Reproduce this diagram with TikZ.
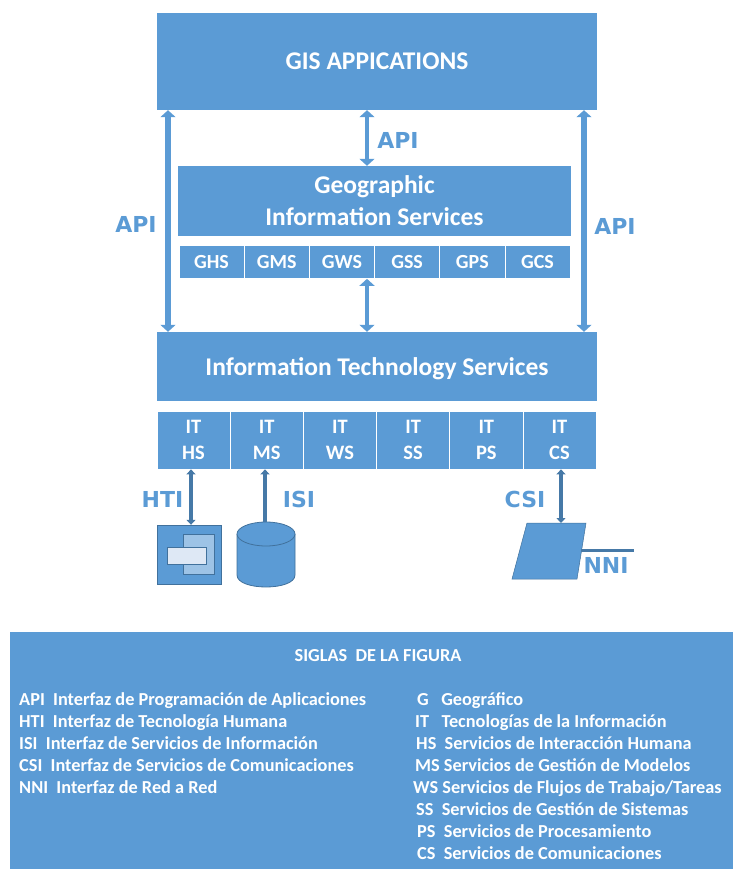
\documentclass[tikz,border=0pt]{standalone}
\usepackage{fontspec}
\setmainfont{Carlito}
\newfontfamily\labelfont{DejaVu Sans}
\usetikzlibrary{arrows.meta}
\definecolor{boxblue}{HTML}{5B9BD5}
\definecolor{edgeblue}{HTML}{41719C}
\definecolor{paleblue}{HTML}{9DC3E6}
\definecolor{paperblue}{HTML}{DEE8F5}
\tikzset{
  bluebox/.style={fill=boxblue,text=white,inner sep=0pt,align=center,font=\bfseries\fontsize{25.5}{32}\selectfont},
  gcell/.style={bluebox,draw=white,line width=0.7pt,minimum width=65.2pt,minimum height=33pt,font=\bfseries\fontsize{20}{24}\selectfont},
  itcell/.style={bluebox,draw=white,line width=0.7pt,minimum width=73.2pt,minimum height=58pt,font=\bfseries\fontsize{20.5}{26}\selectfont},
  apilabel/.style={text=boxblue,inner sep=0pt,font=\labelfont\bfseries\fontsize{22}{26}\selectfont},
  bigarrow/.style={boxblue,line width=5.5pt,{Triangle[width=15pt,length=7pt]}-{Triangle[width=15pt,length=7pt]}},
  thinarrow/.style={edgeblue!80!boxblue,line width=3.5pt,{Triangle[width=9pt,length=5pt]}-{Triangle[width=9pt,length=5pt]}},
  legendline/.style={text=white,anchor=base west,inner sep=0pt,font=\bfseries\fontsize{18.3}{22}\selectfont},
}
\begin{document}
\begin{tikzpicture}[x=1pt,y=-1pt]
 \useasboundingbox (0,0) rectangle (733,869);

 \node (gis) at (377,61.5) [bluebox,minimum width=440pt,minimum height=97pt] {GIS APPICATIONS};
 \node (geo) at (374.5,201) [bluebox,minimum width=393pt,minimum height=70pt] {Geographic\\Information Services};
 \node (its) at (377,366.5) [bluebox,minimum width=440pt,minimum height=69pt,text depth=0pt] {Information Technology Services};

 \node (ghs) at (211.5,262) [gcell] {GHS};
 \node (gms) at (276.7,262) [gcell] {GMS};
 \node (gws) at (341.9,262) [gcell] {GWS};
 \node (gss) at (407.1,262) [gcell] {GSS};
 \node (gps) at (472.3,262) [gcell] {GPS};
 \node (gcs) at (537.5,262) [gcell] {GCS};

 \node (iths) at (193.5,440) [itcell] {IT\\HS};
 \node (itms) at (266.7,440) [itcell] {IT\\MS};
 \node (itws) at (339.9,440) [itcell] {IT\\WS};
 \node (itss) at (413.1,440) [itcell] {IT\\SS};
 \node (itps) at (486.3,440) [itcell] {IT\\PS};
 \node (itcs) at (559.5,440) [itcell] {IT\\CS};

 % interface symbols
 \node (screen) at (189,554.5) [fill=boxblue,draw=edgeblue,minimum width=64pt,minimum height=59pt,inner sep=0pt] {};
 \node (backpane) at (198.5,554) [fill=paleblue,draw=edgeblue,line width=0.8pt,minimum width=31pt,minimum height=40pt,inner sep=0pt] {};
 \node (frontpane) at (186.5,555.5) [fill=paperblue,draw=edgeblue,line width=0.8pt,minimum width=39pt,minimum height=17pt,inner sep=0pt] {};
 \coordinate (disktop) at (265,522);
 \filldraw [fill=boxblue,draw=edgeblue,line width=0.8pt] (237,534) -- (237,575) .. controls (237,591) and (295,591) .. (295,575) -- (295,534);
 \filldraw [fill=boxblue,draw=edgeblue,line width=0.8pt] (266,534) ellipse [x radius=29,y radius=12];
 \coordinate (nettop) at (561,523);
 \coordinate (netright) at (581,550);
 \coordinate (nniend) at (634,550);
 \fill [boxblue,draw=edgeblue,line width=0.5pt] (527,523) -- (586,523) -- (577,579) -- (512,579) -- cycle;

 % arrow positions
 \coordinate (leftline) at (168,0);
 \coordinate (midline) at (367,0);
 \coordinate (rightline) at (584,0);
 \coordinate (htiline) at (191,0);
 \coordinate (isiline) at (265,0);
 \coordinate (csiline) at (561,0);

 \draw [bigarrow] (gis.south -| leftline) -- (its.north -| leftline);
 \draw [bigarrow] (gis.south -| rightline) -- (its.north -| rightline);
 \draw [bigarrow,line width=4pt] (gis.south -| midline) -- (geo.north -| midline);
 \draw [bigarrow,line width=4pt] (gws.south -| midline) -- (its.north -| midline);
 \draw [thinarrow] (iths.south -| htiline) -- (screen.north -| htiline);
 \draw [thinarrow,{Triangle[width=9pt,length=5pt]}-] (itms.south -| isiline) -- (disktop);
 \draw [thinarrow] (itcs.south -| csiline) -- (nettop);
 \draw [edgeblue!80!boxblue,line width=3pt] (netright) -- (nniend);

 \node (apileft) at (136,224) [apilabel] {API};
 \node (apimid) at (398,140) [apilabel] {API};
 \node (apiright) at (615,226) [apilabel] {API};
 \node (hti) at (162.5,499) [apilabel] {HTI};
 \node (isi) at (299,499) [apilabel] {ISI};
 \node (csi) at (525,499) [apilabel] {CSI};
 \node (nni) at (606,565) [apilabel] {NNI};

 % legend
 \node (legend) at (371.5,750.5) [fill=boxblue,minimum width=723pt,minimum height=237pt,inner sep=0pt] {};
 \node (legendtitle) at (378,661) [legendline,anchor=base] {SIGLAS\ \ DE LA FIGURA};

 \node (apiline) at (19,705) [legendline] {API\ \ Interfaz de Programación de Aplicaciones};
 \node (htiline1) at (19,727) [legendline] {HTI\ \ Interfaz de Tecnología Humana};
 \node (isiline1) at (19,749) [legendline] {ISI\ \ Interfaz de Servicios de Información};
 \node (csiline1) at (19,771) [legendline] {CSI\ \ Interfaz de Servicios de Comunicaciones};
 \node (nniline1) at (19,793) [legendline] {NNI\ \ Interfaz de Red a Red};

 \node (gline) at (417,705) [legendline] {G\ \ \ Geográfico};
 \node (itline) at (415,727) [legendline] {IT\ \ \ Tecnologías de la Información};
 \node (hsline) at (416,749) [legendline] {HS\ \ Servicios de Interacción Humana};
 \node (msline) at (415,771) [legendline] {MS Servicios de Gestión de Modelos};
 \node (wsline) at (413,793) [legendline] {WS Servicios de Flujos de Trabajo/Tareas};
 \node (ssline) at (416,815) [legendline] {SS\ \ Servicios de Gestión de Sistemas};
 \node (psline) at (417,837) [legendline] {PS\ \ Servicios de Procesamiento};
 \node (csline) at (417,859) [legendline] {CS\ \ Servicios de Comunicaciones};

\end{tikzpicture}
\end{document}
